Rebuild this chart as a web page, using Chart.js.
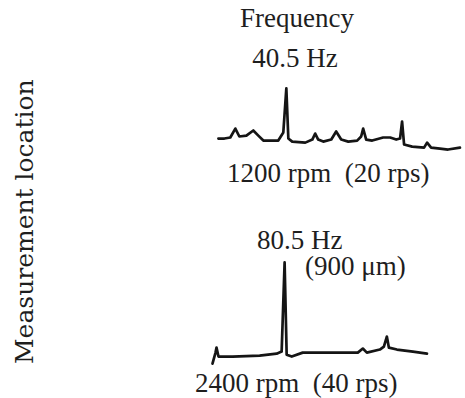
<!DOCTYPE html>
<html>
<head>
<meta charset="utf-8">
<script src="https://cdn.jsdelivr.net/npm/chart.js@4/dist/chart.umd.min.js"></script>
<style>
  html, body { margin:0; padding:0; background:#fff; }
  #stage { position:relative; width:465px; height:398px; overflow:hidden; }
  .lbl { position:absolute; font-family:"Liberation Serif", serif; font-size:27px; line-height:27px; color:#1e1e1e; white-space:pre; }
  .mid { transform:translateX(-50%); }
  #ylab { position:absolute; left:12px; top:364px; font-family:"DejaVu Serif", serif; font-size:25px; line-height:25px; color:#1e1e1e; white-space:pre; transform:rotate(-90deg); transform-origin:left top; }
  .box { position:absolute; }
</style>
</head>
<body>
<div id="stage">
  <div id="ylab">Measurement location</div>

  <div class="lbl mid" style="left:297px; top:5px;">Frequency</div>
  <div class="lbl mid" style="left:295px; top:45px;">40.5 Hz</div>
  <div class="lbl" style="left:227px; top:160px;">1200 rpm  (20 rps)</div>

  <div class="lbl" style="left:257px; top:227px;">80.5 Hz</div>
  <div class="lbl" style="left:305px; top:253px;">(900 μm)</div>
  <div class="lbl" style="left:195px; top:370px;">2400 rpm  (40 rps)</div>

  <div class="box" style="left:210px; top:80px; width:255px; height:76px;"><canvas id="spec1200"></canvas></div>
  <div class="box" style="left:208px; top:256px; width:224px; height:112px;"><canvas id="spec2400"></canvas></div>
</div>

<script>
/* spectrum at 1200 rpm: frequency (Hz) vs amplitude (µm) */
const freq1200 = [0, 3.6, 7.1, 10.1, 12.5, 16.7, 20.8, 23.8, 26.8, 35.7, 38.7, 40.5, 41.7, 44,
  51.8, 56, 57.7, 59.5, 62.5, 67.3, 70.2, 73.2, 77.4, 82.7, 85.1, 86.3, 88.1, 91.7,
  98.2, 102.4, 106, 108.3, 109.5, 110.7, 115.5, 122.6, 124.4, 126.8, 132.1, 136.9, 144];
const amp1200 = [124, 124, 133, 212, 142, 150, 195, 150, 106, 106, 177, 566, 124, 97,
  88, 115, 168, 115, 97, 115, 186, 115, 97, 106, 142, 212, 115, 106,
  133, 133, 115, 124, 274, 71, 53, 44, 88, 44, 35, 27, 44];

/* spectrum at 2400 rpm */
const freq2400 = [0, 3.4, 4.5, 6.7, 22.4, 52.6, 71.6, 77.2, 80.5, 82.8, 88.5, 100.7, 134.2,
  162.2, 167.8, 172.3, 186.8, 191.3, 194.6, 196.9, 205.8, 223.7, 239.4];
const amp2400 = [9, 106, 150, 71, 71, 80, 97, 115, 903, 88, 71, 106, 106,
  106, 142, 106, 133, 159, 248, 150, 133, 115, 97];

const INK = "#151515";

function spectrum(id, xs, ys, xRange, yRange){
  new Chart(document.getElementById(id), {
    type:'line',
    data:{
      datasets:[{
        data: xs.map((x,i)=>({ x:x, y:ys[i] })),
        borderColor: INK,
        borderWidth: 2.7,
        pointRadius: 0,
        tension: 0,
        borderJoinStyle: 'round',
        borderCapStyle: 'round',
        clip: false,
        fill: false
      }]
    },
    options:{
      responsive:true,
      maintainAspectRatio:false,
      animation:false,
      layout:{ padding:0 },
      plugins:{ legend:{ display:false }, tooltip:{ enabled:false } },
      scales:{
        x:{ type:'linear', display:false, min:xRange[0], max:xRange[1] },
        y:{ display:false, min:yRange[0], max:yRange[1] }
      }
    }
  });
}

spectrum('spec1200', freq1200, amp1200, [-5, 147], [-30, 640]);
spectrum('spec2400', freq2400, amp2400, [-5, 245], [-30, 960]);
</script>
</body>
</html>
